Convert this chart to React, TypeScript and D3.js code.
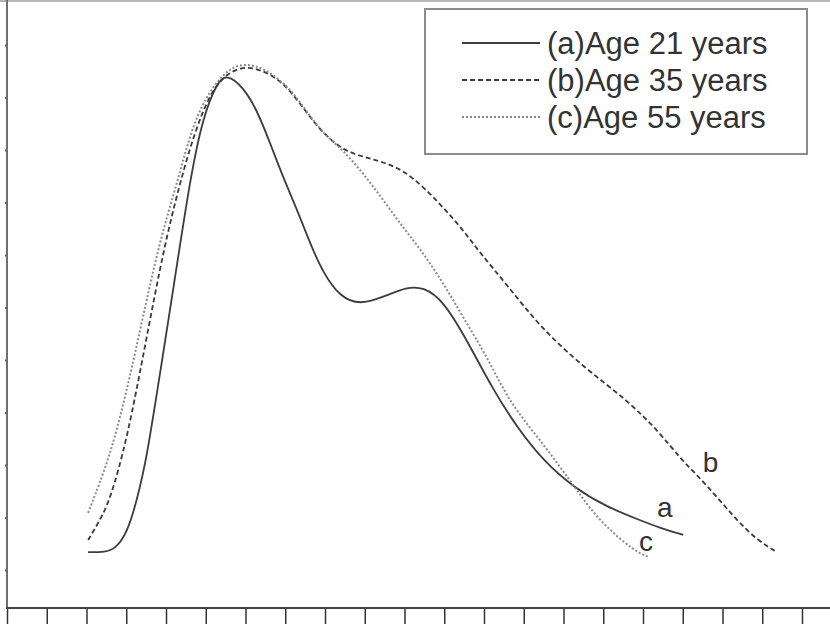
import React, { useEffect, useRef } from 'react';
import * as d3 from 'd3';

// x in tick units along the bottom axis, y in arbitrary intensity units
const ageA_x = [2.04, 2.47, 2.72, 3.02, 3.27, 3.52, 3.85, 4.18, 4.60, 4.93, 5.28, 5.53, 5.94, 6.29, 6.62, 6.94, 7.30, 7.62, 7.95, 8.38, 8.88, 9.46, 10.06, 10.47, 10.97, 11.57, 12.23, 12.83, 13.48, 14.24, 15.09, 15.92, 16.43, 17.01];
const ageA_y = [13.4, 13.4, 14.0, 17.0, 23.3, 31.5, 47.5, 63.3, 84.3, 96.3, 102.8, 104.5, 102.0, 97.6, 91.3, 84.9, 78.6, 72.3, 66.6, 62.0, 60.5, 62.0, 63.9, 63.9, 61.4, 53.8, 44.3, 37.2, 30.9, 25.8, 22.0, 19.5, 18.0, 16.7];

const ageB_x = [2.04, 2.34, 2.59, 3.02, 3.50, 3.95, 4.35, 4.70, 5.11, 5.53, 6.06, 6.69, 7.12, 7.55, 7.95, 8.45, 8.96, 9.46, 9.96, 10.47, 10.97, 11.47, 11.90, 12.58, 13.41, 14.49, 15.60, 16.43, 16.93, 17.36, 17.86, 18.36, 18.87, 19.37];
const ageB_y = [15.7, 19.5, 23.3, 34.8, 53.8, 71.5, 83.7, 92.9, 100.9, 104.7, 106.2, 104.3, 101.4, 97.0, 93.2, 90.0, 88.7, 87.7, 86.2, 83.0, 79.1, 74.8, 70.4, 64.3, 56.3, 48.7, 42.4, 36.1, 31.3, 28.1, 23.9, 19.5, 15.7, 13.4];

const ageC_x = [2.04, 2.59, 3.02, 3.42, 3.85, 4.28, 4.68, 5.11, 5.53, 5.94, 6.49, 7.12, 7.55, 7.95, 8.45, 8.96, 9.46, 9.96, 10.47, 10.97, 11.47, 12.08, 12.65, 13.41, 14.16, 14.74, 15.17, 15.75, 16.13];
const ageC_y = [20.9, 31.5, 44.3, 58.2, 72.9, 83.7, 95.1, 101.4, 105.2, 106.6, 105.6, 101.8, 97.2, 93.2, 90.0, 85.6, 80.5, 75.3, 70.4, 64.7, 58.2, 50.6, 41.8, 34.8, 27.1, 20.9, 17.6, 13.8, 12.5];

const legendLabels = ['(a)Age 21 years', '(b)Age 35 years', '(c)Age 55 years'];
const curveTags = ['a', 'b', 'c'];
const tagX = [16.35, 17.5, 15.9];
const tagY = [20.1, 28.6, 13.6];

const xTicks = d3.range(0, 22);
const yTicks = d3.range(10, 120, 10);

const App = () => {
  const ref = useRef(null);

  useEffect(() => {
    const svg = d3.select(ref.current);
    svg.selectAll('*').remove();

    const width = 830;
    const height = 624;
    const axisY = 608;

    const xScale = d3.scaleLinear().domain([0, 21]).range([7, 841.75]);
    const yScale = d3.scaleLinear().domain([0, 100]).range([622.5, 97.5]);

    svg.append('rect').attr('width', width).attr('height', height).attr('fill', '#fff');

    // frame top
    svg.append('line')
      .attr('x1', 0).attr('x2', width).attr('y1', 1).attr('y2', 1)
      .attr('stroke', '#b5b5b5').attr('stroke-width', 2);

    // left axis
    const yAxis = d3.axisLeft(yScale).tickValues(yTicks).tickSize(2).tickFormat(() => '');
    const gy = svg.append('g').attr('transform', 'translate(7,0)').call(yAxis);
    gy.select('.domain').remove();
    gy.selectAll('line').attr('stroke', '#555').attr('stroke-width', 2);
    svg.append('line')
      .attr('x1', 7).attr('x2', 7).attr('y1', 0).attr('y2', axisY)
      .attr('stroke', '#6e6e6e').attr('stroke-width', 2);

    // bottom axis
    const xAxis = d3.axisBottom(xScale).tickValues(xTicks).tickSize(18).tickFormat(() => '');
    const gx = svg.append('g').attr('transform', `translate(0,${axisY})`).call(xAxis);
    gx.select('.domain').remove();
    gx.selectAll('line').attr('stroke', '#333').attr('stroke-width', 1.5);
    svg.append('line')
      .attr('x1', 6).attr('x2', width).attr('y1', axisY).attr('y2', axisY)
      .attr('stroke', '#444').attr('stroke-width', 1.8);

    const line = d3.line()
      .x(d => xScale(d[0]))
      .y(d => yScale(d[1]))
      .curve(d3.curveBasis);

    const series = [
      { xs: ageA_x, ys: ageA_y, stroke: '#3c3c3c', dash: null, w: 1.8 },
      { xs: ageB_x, ys: ageB_y, stroke: '#3a3a3a', dash: '5,3', w: 1.8 },
      { xs: ageC_x, ys: ageC_y, stroke: '#8a8a8a', dash: '2,2', w: 2 }
    ];

    series.forEach(s => {
      svg.append('path')
        .datum(s.xs.map((x, i) => [x, s.ys[i]]))
        .attr('d', line)
        .attr('fill', 'none')
        .attr('stroke', s.stroke)
        .attr('stroke-width', s.w)
        .attr('stroke-dasharray', s.dash);
    });

    // curve tags
    svg.selectAll('.tag')
      .data(curveTags)
      .join('text')
      .attr('class', 'tag')
      .attr('x', (d, i) => xScale(tagX[i]))
      .attr('y', (d, i) => yScale(tagY[i]))
      .attr('font-family', 'Liberation Sans, Arial, sans-serif')
      .attr('font-size', 28)
      .attr('fill', '#333')
      .text(d => d);

    // legend
    const lg = svg.append('g');
    lg.append('rect')
      .attr('x', 425).attr('y', 9).attr('width', 382).attr('height', 145)
      .attr('fill', '#fff').attr('stroke', '#8c8c8c').attr('stroke-width', 2);

    legendLabels.forEach((label, i) => {
      const cy = 43 + i * 37;
      lg.append('line')
        .attr('x1', 462).attr('x2', 540).attr('y1', cy).attr('y2', cy)
        .attr('stroke', series[i].stroke)
        .attr('stroke-width', series[i].w)
        .attr('stroke-dasharray', series[i].dash);
      lg.append('text')
        .attr('x', 547).attr('y', cy + 11)
        .attr('font-family', 'Liberation Sans, Arial, sans-serif')
        .attr('font-size', 31)
        .attr('fill', '#333')
        .text(label);
    });
  }, []);

  return (
    <svg ref={ref} width={830} height={624}
      style={{ position: 'absolute', left: 0, top: 0, display: 'block' }} />
  );
};

export default App;
